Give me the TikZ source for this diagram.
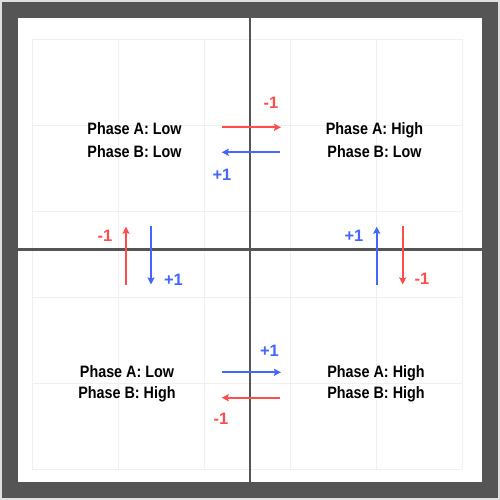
\documentclass[tikz,border=0pt]{standalone}
\usepackage{fontspec}
\newfontfamily\phasefont[FakeStretch=0.87]{Liberation Sans}
\newfontfamily\countfont{Liberation Sans}
\usetikzlibrary{arrows.meta,positioning}
\definecolor{framegray}{HTML}{555555}
\definecolor{gridgray}{HTML}{F0F0F0}
\definecolor{minusred}{HTML}{FF4D4D}
\definecolor{plusblue}{HTML}{4466FF}

\begin{document}
\begin{tikzpicture}[x=1pt, y=-1pt,
    phase/.style={font=\phasefont\bfseries\fontsize{16.5}{19}\selectfont, anchor=base, inner sep=0pt},
    count/.style={font=\countfont\bfseries\fontsize{16.5}{19}\selectfont, inner sep=0pt},
    arrow/.style={-{Stealth[length=7pt, width=7pt, inset=1pt]}, line width=1.8pt},
    axis/.style={framegray, line width=2.2pt}
]
\useasboundingbox (0,0) rectangle (500,500);

% Cornice
\fill[black!12] (0,0) rectangle (500,500);
\fill[framegray] (2,2) rectangle (498,498);
\fill[white] (18,18) rectangle (482,482);

% Griglia
\foreach \x in {32,118,...,462} {
    \draw[gridgray, line width=0.8pt] (\x,39) -- (\x,469);
}
\foreach \y in {39,125,...,469} {
    \draw[gridgray, line width=0.8pt] (32,\y) -- (462,\y);
}

% Assi
\coordinate (top) at (250,18);
\coordinate (bottom) at (250,482);
\coordinate (left) at (18,249.5);
\coordinate (right) at (482,249.5);
\draw[axis] (top) -- (bottom);
\draw[axis] (left) -- (right);

% Stati
\node[phase] (tlA) at (134.5,135) {Phase A: Low};
\node[phase] (tlB) at (134.5,157) {Phase B: Low};
\node[phase] (trA) at (374.5,135) {Phase A: High};
\node[phase] (trB) at (374.5,157) {Phase B: Low};
\node[phase] (blA) at (127,377) {Phase A: Low};
\node[phase] (blB) at (127,398.5) {Phase B: High};
\node[phase] (brA) at (376,377) {Phase A: High};
\node[phase] (brB) at (376,398.5) {Phase B: High};

% Estremi delle frecce
\coordinate (topR1) at (222,127.3);
\coordinate (topR2) at (281,127.3);
\coordinate (topB1) at (280,152.3);
\coordinate (topB2) at (221.7,152.3);
\coordinate (botB1) at (222,372.3);
\coordinate (botB2) at (281,372.3);
\coordinate (botR1) at (280,397.7);
\coordinate (botR2) at (221.7,397.7);
\coordinate (lefR1) at (126,285);
\coordinate (lefR2) at (126,226.7);
\coordinate (lefB1) at (151,226);
\coordinate (lefB2) at (151,284.5);
\coordinate (rigB1) at (376.7,285);
\coordinate (rigB2) at (376.7,226.7);
\coordinate (rigR1) at (402.7,226);
\coordinate (rigR2) at (402.7,284.5);

% Transizioni
\draw[arrow, minusred] (topR1) -- (topR2);
\draw[arrow, plusblue] (topB1) -- (topB2);
\draw[arrow, plusblue] (botB1) -- (botB2);
\draw[arrow, minusred] (botR1) -- (botR2);
\draw[arrow, minusred] (lefR1) -- (lefR2);
\draw[arrow, plusblue] (lefB1) -- (lefB2);
\draw[arrow, plusblue] (rigB1) -- (rigB2);
\draw[arrow, minusred] (rigR1) -- (rigR2);

% Etichette
\node[count, minusred] (topMinus) at (271,102.5) {-1};
\node[count, plusblue] (topPlus) at (222,174.5) {+1};
\node[count, plusblue] (botPlus) at (269.5,351) {+1};
\node[count, minusred] (botMinus) at (221,419) {-1};
\node[count, minusred] (lefMinus) at (105,235.5) {-1};
\node[count, plusblue] (lefPlus) at (173.5,280) {+1};
\node[count, plusblue] (rigPlus) at (354,235.5) {+1};
\node[count, minusred] (rigMinus) at (422,278.5) {-1};

\end{tikzpicture}
\end{document}
